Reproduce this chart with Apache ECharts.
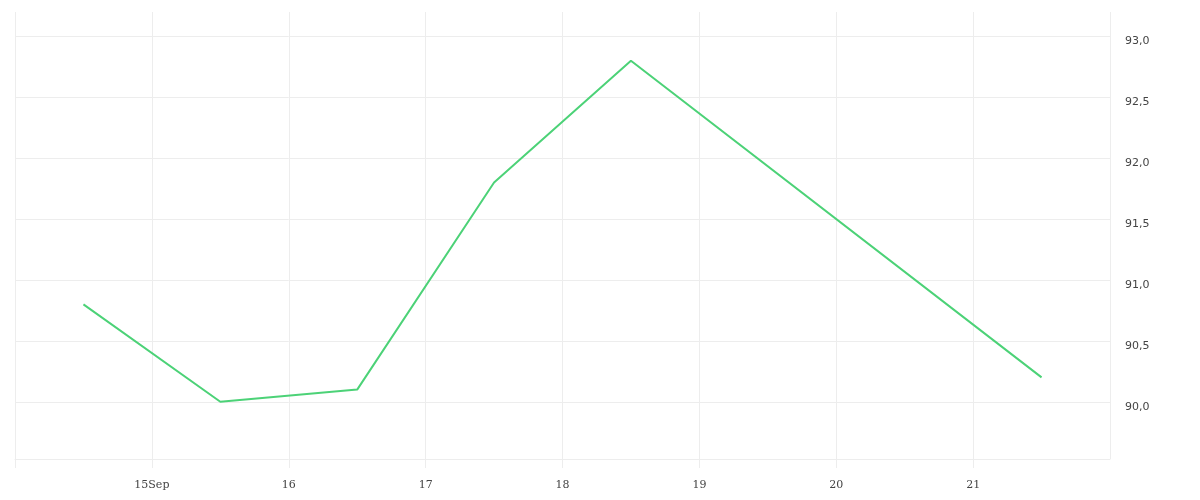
<!DOCTYPE html>
<html>
<head>
<meta charset="utf-8">
<script src="https://cdn.jsdelivr.net/npm/echarts@6/dist/echarts.min.js"></script>
<style>
  html, body { margin: 0; padding: 0; background: #fff; }
  #chart { width: 1200px; height: 500px; }
</style>
</head>
<body>
<div id="chart"></div>
<script>
// readings, one per day at noon (no values for 19th and 20th)
const dates = ['2023-09-14 12:00', '2023-09-15 12:00', '2023-09-16 12:00',
               '2023-09-17 12:00', '2023-09-18 12:00', '2023-09-21 12:00'];
const values = [90.8, 90.0, 90.1, 91.8, 92.8, 90.2];
const monthLabel = 'Sep';

const axisStart = new Date(2023, 8, 14).getTime();
const axisEnd = new Date(2023, 8, 22).getTime();
const DAY = 24 * 3600 * 1000;

function toTime(s) {
  const [d, t] = s.split(' ');
  const [y, m, dd] = d.split('-').map(Number);
  const [hh, mm] = t.split(':').map(Number);
  return new Date(y, m - 1, dd, hh, mm).getTime();
}

const gridColor = '#ededed';

const chart = echarts.init(document.getElementById('chart'));
chart.setOption({
  animation: false,
  grid: { left: 15, right: 90, top: 12, bottom: 41, containLabel: false, outerBoundsMode: 'none' },
  xAxis: {
    type: 'time',
    min: axisStart,
    max: axisEnd,
    minInterval: DAY,
    maxInterval: DAY,
    axisLine: { show: true, lineStyle: { color: gridColor, width: 1 } },
    axisTick: { show: true, length: 9, interval: 0, lineStyle: { color: gridColor, width: 1 } },
    splitLine: { show: true, lineStyle: { color: gridColor, width: 1 } },
    axisLabel: {
      margin: 21,
      color: '#444',
      fontFamily: 'DejaVu Serif',
      fontSize: 11,
      formatter: function (val) {
        if (val <= axisStart || val >= axisEnd) return '';
        const d = new Date(val);
        return val - axisStart < 1.5 * DAY ? d.getDate() + monthLabel : String(d.getDate());
      }
    }
  },
  yAxis: {
    type: 'value',
    position: 'right',
    min: 89.53,
    max: 93.2,
    splitNumber: 7,
    axisLine: { show: false },
    axisTick: { show: false },
    splitLine: { show: true, showMinLine: false, showMaxLine: false,
                 lineStyle: { color: gridColor, width: 1 } },
    axisLabel: {
      showMinLabel: false,
      showMaxLabel: false,
      margin: 15,
      verticalAlign: 'top',
      lineHeight: 10,
      color: '#444',
      fontFamily: 'DejaVu Sans',
      fontSize: 11,
      formatter: function (v) { return v.toFixed(1).replace('.', ','); }
    }
  },
  series: [{
    type: 'line',
    data: dates.map((d, i) => [toTime(d), values[i]]),
    showSymbol: false,
    lineStyle: { color: '#4cd277', width: 2 },
    itemStyle: { color: '#4cd277' }
  }]
});
</script>
</body>
</html>
